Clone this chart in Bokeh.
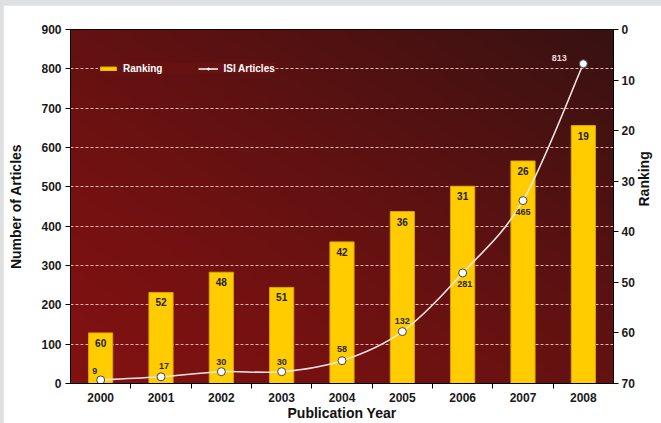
import numpy as np
from bokeh.plotting import figure
from bokeh.models import (Range1d, LinearAxis, FixedTicker, Legend, LegendItem,
                          ColumnDataSource)
from bokeh.layouts import column
from bokeh.embed import file_html
from bokeh.resources import INLINE
from bokeh.core.properties import value

# ---------------- data ----------------
years = [2000, 2001, 2002, 2003, 2004, 2005, 2006, 2007, 2008]
ranking = [60, 52, 48, 51, 42, 36, 31, 26, 19]
isi_articles = [9, 17, 30, 30, 58, 132, 281, 465, 813]
left_ticks = [0, 100, 200, 300, 400, 500, 600, 700, 800, 900]
right_ticks = [0, 10, 20, 30, 40, 50, 60, 70]

# ---------------- styles ----------------
FONT = "Liberation Sans"
isi_label_dx = [-6, 3, 0, 0, 0, 0, 2, 0, -24]
isi_label_dy = [-9, -11, -10, -10, -12, -11, 11, 11, -6]
isi_label_colors = ["#2a2a2a"] * 8 + ["#f2d8d8"]

x_lo, x_hi = years[0] - 0.5, years[-1] + 0.5
y_lo, y_hi = left_ticks[0], left_ticks[-1]

p = figure(frame_width=543, frame_height=354, output_backend="svg",
           toolbar_location=None,
           x_range=Range1d(x_lo, x_hi), y_range=Range1d(y_lo, y_hi),
           min_border_left=67, min_border_right=40, min_border_top=24,
           min_border_bottom=38)
p.margin = (5, 0, 0, 3)
p.border_fill_color = "white"
p.outline_line_color = "black"
p.outline_line_width = 1

# gradient background
n = 80
u = np.linspace(0, 1, n)[None, :]
v = np.linspace(0, 1, n)[:, None]
t = (0.5 * u + 0.5 * v) ** 1.3
c0 = np.array([130, 18, 18])
c1 = np.array([56, 17, 17])
r = (c0[0] + (c1[0] - c0[0]) * t).astype(np.uint32)
g = (c0[1] + (c1[1] - c0[1]) * t).astype(np.uint32)
b = (c0[2] + (c1[2] - c0[2]) * t).astype(np.uint32)
img = ((255 << 24) | (b << 16) | (g << 8) | r).astype(np.uint32)
p.image_rgba(image=[img], x=x_lo, y=y_lo, dw=x_hi - x_lo, dh=y_hi - y_lo, level="image")

# grid
p.xgrid.grid_line_color = None
p.ygrid.ticker = FixedTicker(ticks=left_ticks[1:-1])
p.ygrid.grid_line_color = "#e9b4b4"
p.ygrid.grid_line_dash = "3 2"
p.ygrid.grid_line_width = 1
p.ygrid.level = "underlay"

# right axis (ranking, inverted)
p.extra_y_ranges = {"rank": Range1d(start=right_ticks[-1], end=right_ticks[0])}
rax = LinearAxis(y_range_name="rank", ticker=FixedTicker(ticks=right_ticks))
p.add_layout(rax, "right")

# bars
bar_src = ColumnDataSource(dict(x=years, top=ranking,
                                bottom=[right_ticks[-1]] * len(years),
                                lab=[str(v_) for v_ in ranking]))
bars = p.vbar(x="x", top="top", bottom="bottom", width=0.4, source=bar_src,
              y_range_name="rank", fill_color="#FFCC00", line_color="#d9a800",
              line_width=1)
p.text(x="x", y="top", text="lab", source=bar_src, y_range_name="rank",
       text_align="center", text_baseline="top", y_offset=6,
       text_font=value(FONT), text_font_style="bold", text_font_size="10px",
       text_color="#222222")

# smooth line via bezier segments
xs = np.array(years, dtype=float)
ys = np.array(isi_articles, dtype=float)
k = 1.0 / 6.0
x0, y0, x1, y1, cx0, cy0, cx1, cy1 = [], [], [], [], [], [], [], []
N = len(xs)
for i in range(N - 1):
    ip = max(i - 1, 0)
    inx = min(i + 2, N - 1)
    x0.append(xs[i]); y0.append(ys[i])
    x1.append(xs[i + 1]); y1.append(ys[i + 1])
    cx0.append(xs[i] + k * (xs[i + 1] - xs[ip]))
    cy0.append(ys[i] + k * (ys[i + 1] - ys[ip]))
    cx1.append(xs[i + 1] - k * (xs[inx] - xs[i]))
    cy1.append(ys[i + 1] - k * (ys[inx] - ys[i]))
p.bezier(x0=x0, y0=y0, x1=x1, y1=y1, cx0=cx0, cy0=cy0, cx1=cx1, cy1=cy1,
         line_color="#f6e4e4", line_width=1.6)

line_src = ColumnDataSource(dict(x=years, y=isi_articles,
                                 lab=[str(v_) for v_ in isi_articles],
                                 dx=isi_label_dx, dy=isi_label_dy,
                                 col=isi_label_colors))
pts = p.scatter(x="x", y="y", source=line_src, size=8, marker="circle",
                fill_color="white", line_color="#444444", line_width=1)
p.text(x="x", y="y", text="lab", source=line_src, x_offset="dx", y_offset="dy",
       text_align="center", text_baseline="middle", text_color="col",
       text_font=value(FONT), text_font_style="bold", text_font_size="9px")

# legend proxy for line (NaN data, so nothing is drawn in the plot)
proxy_line = p.line(x=[np.nan, np.nan], y=[np.nan, np.nan], line_color="white",
                    line_width=1.5)
proxy_pt = p.scatter(x=[np.nan], y=[np.nan], size=4, marker="circle",
                     fill_color="white", line_color="white")
legend = Legend(items=[LegendItem(label="Ranking", renderers=[bars], index=0),
                       LegendItem(label="ISI Articles", renderers=[proxy_line, proxy_pt])],
                orientation="horizontal", location=(28, 309),
                background_fill_color="#661212", background_fill_alpha=1.0,
                border_line_color=None, glyph_width=20, glyph_height=5,
                label_text_color="white", label_text_font=FONT,
                label_text_font_style="bold", label_text_font_size="10px",
                spacing=36, padding=22, margin=0, label_standoff=5)
p.add_layout(legend, "center")

# axes styling
p.xaxis.ticker = FixedTicker(ticks=years, minor_ticks=[yv + 0.5 for yv in years[:-1]])
p.xaxis.major_tick_out = 0
p.xaxis.major_tick_in = 0
p.xaxis.minor_tick_out = 5
p.xaxis.minor_tick_in = 0
p.xaxis.axis_label = "Publication Year"
p.yaxis[0].ticker = FixedTicker(ticks=left_ticks)
p.yaxis[0].axis_label = "Number of Articles"
rax.axis_label = "Ranking"

for ax in [p.xaxis[0], p.yaxis[0], rax]:
    ax.axis_line_color = "black"
    ax.major_tick_line_color = "black"
    ax.major_label_text_font = FONT
    ax.major_label_text_font_style = "bold"
    ax.major_label_text_font_size = "12px"
    ax.major_label_text_color = "#1a1a1a"
    ax.axis_label_text_font = FONT
    ax.axis_label_text_font_style = "bold"
    ax.axis_label_text_font_size = "14px"
    ax.axis_label_text_color = "#111111"
    ax.minor_tick_line_color = None
p.xaxis.minor_tick_line_color = "black"
p.yaxis[0].major_tick_out = 5
p.yaxis[0].major_tick_in = 0
rax.major_tick_out = 5
rax.major_tick_in = 0
p.xaxis.major_label_standoff = 4
p.xaxis.axis_label_standoff = 0
p.yaxis[0].major_label_standoff = 4
p.yaxis[0].axis_label_standoff = 14
rax.major_label_standoff = 3
rax.axis_label_standoff = 6
rax.axis_label_orientation = np.pi / 2

lay = column(p, width=661, height=423,
             styles={"background-color": "#dfe0e2", "overflow": "hidden"})
open("out.html", "w").write(file_html(lay, INLINE))
